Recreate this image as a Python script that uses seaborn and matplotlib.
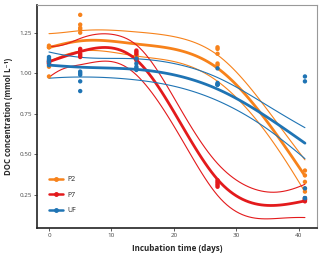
import numpy as np
import pandas as pd
import matplotlib
matplotlib.use("Agg")
import matplotlib.pyplot as plt
import seaborn as sns
from matplotlib.lines import Line2D

# ---- data ----
days = [0, 5, 14, 27, 41]
p2_values = [
    [1.17, 1.16, 1.16, 1.04, 0.98],
    [1.36, 1.30, 1.28, 1.27, 1.25],
    [1.11, 1.10, 1.10, 1.09, 1.11],
    [1.16, 1.15, 1.12, 1.06, 1.05],
    [0.40, 0.37, 0.33, 0.29, 0.27],
]
p7_values = [
    [1.08, 1.07, 1.06, 1.07, 1.06],
    [1.15, 1.14, 1.12, 1.11, 1.10],
    [1.14, 1.13, 1.12, 1.09, 1.08],
    [0.34, 0.33, 0.32, 0.31, 0.30],
    [0.23, 0.22, 0.22, 0.22, 0.21],
]
uf_values = [
    [1.10, 1.09, 1.08, 1.07, 1.05],
    [1.01, 1.00, 0.99, 0.95, 0.89],
    [1.09, 1.06, 1.04, 1.03, 1.02],
    [1.03, 0.94, 0.93, 0.93, 0.93],
    [0.98, 0.95, 0.29, 0.23, 0.23],
]
groups = ["P2", "P7", "UF"]
colors = {"P2": "#f7821b", "P7": "#e31a1c", "UF": "#1f74b4"}
smooth_lambda = {"P2": 600.0, "P7": 70.0, "UF": 1600.0}
x_ticks = [0, 10, 20, 30, 40]
y_ticks = [0.25, 0.50, 0.75, 1.00, 1.25]

rows = []
for g, vals in zip(groups, [p2_values, p7_values, uf_values]):
    for d, vs in zip(days, vals):
        for v in vs:
            rows.append({"day": d, "doc": v, "group": g})
df = pd.DataFrame(rows)

# ---- penalised smoothing spline per group, pooled residual variance, 95% band ----
grid = np.arange(0, 41.5, 0.5)
m = len(grid)
D = np.diff(np.eye(m), n=2, axis=0)
parts = {}
rss_total, n_total, edf_total = 0.0, 0, 0.0
for g in groups:
    sub = df[df.group == g]
    x = sub.day.values
    y = sub.doc.values
    B = np.zeros((len(x), m))
    B[np.arange(len(x)), np.searchsorted(grid, x)] = 1.0
    A = B.T @ B + smooth_lambda[g] * 8.0 * D.T @ D
    H = np.linalg.solve(A, B.T)
    f = H @ y
    hat = B @ H
    rss_total += ((y - hat @ y) ** 2).sum()
    n_total += len(y)
    edf_total += np.trace(hat)
    parts[g] = (f, H)
s2 = rss_total / (n_total - edf_total)

fit_rows = []
for g in groups:
    f, H = parts[g]
    se = np.sqrt(np.sum(H * H, axis=1) * s2)
    for xi, p, s in zip(grid, f, se):
        fit_rows.append({"day": xi, "fit": p, "lo": p - 1.96 * s, "hi": p + 1.96 * s, "group": g})
fit = pd.DataFrame(fit_rows)

sns.set_theme(style="white")
plt.rcParams["font.family"] = ["Open Sans", "DejaVu Sans"]

fig = plt.figure(figsize=(3.2, 2.56), dpi=100)
ax = fig.add_axes([0.116, 0.109, 0.874, 0.871])

for g in groups:
    fg = fit[fit.group == g]
    sns.lineplot(data=fg, x="day", y="lo", color=colors[g], lw=0.8, ax=ax, legend=False)
    sns.lineplot(data=fg, x="day", y="hi", color=colors[g], lw=0.8, ax=ax, legend=False)
    sns.lineplot(data=fg, x="day", y="fit", color=colors[g], lw=2.0, ax=ax, legend=False)

sns.scatterplot(data=df, x="day", y="doc", hue="group", palette=colors,
                s=10, edgecolor="none", ax=ax, legend=False, zorder=3)

handles = [Line2D([0], [0], color=colors[g], lw=1.8, marker="o", markersize=2.5) for g in groups]
ax.legend(handles, groups, loc="lower left", bbox_to_anchor=(0.02, 0.035), frameon=False,
          fontsize=5, handlelength=2.0, handletextpad=0.6, labelspacing=1.2)

ax.set_xlim(-1.9, 42.9)
ax.set_ylim(0.045, 1.42)
ax.set_xticks(x_ticks)
ax.set_yticks(y_ticks)
ax.set_xticklabels([str(t) for t in x_ticks])
ax.set_yticklabels([f"{t:.2f}" for t in y_ticks])
ax.tick_params(axis="both", labelsize=4.5, length=2.0, width=0.6, pad=1.5, direction="out",
               colors="#444444", bottom=True, left=True)
ax.set_xlabel("Incubation time (days)", fontsize=5.8, fontweight="bold", labelpad=4)
ax.set_ylabel("DOC concentration (mmol L\u207b\u00b9)", fontsize=5.6, fontweight="bold", labelpad=5)
for side in ["left", "bottom"]:
    ax.spines[side].set_color("#222222")
    ax.spines[side].set_linewidth(1.2)
for side in ["top", "right"]:
    ax.spines[side].set_color("#999999")
    ax.spines[side].set_linewidth(0.8)

fig.savefig("out.png", dpi=100)
